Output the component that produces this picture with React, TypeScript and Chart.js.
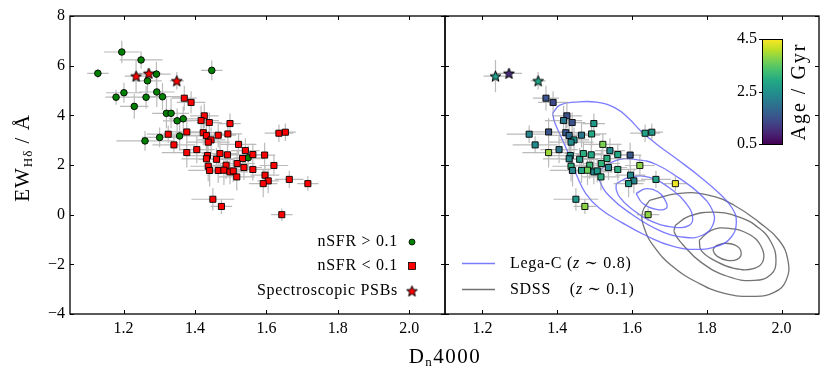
import React, { useEffect, useRef } from 'react';
import { Chart, registerables } from 'chart.js';
Chart.register(...registerables);

const FONT = '"Liberation Serif", "DejaVu Serif", serif';

// ---------------- data ----------------
const xTickValues = [1.2, 1.4, 1.6, 1.8, 2.0];
const yTickValues = [-4, -2, 0, 2, 4, 6, 8];
const ageTickValues = [0.5, 2.5, 4.5];

// nSFR > 0.1 (green circles)
const sfD = [1.195, 1.249, 1.128, 1.292, 1.267, 1.447, 1.201, 1.179, 1.263, 1.293, 1.309, 1.230, 1.320, 1.333, 1.350, 1.367, 1.357, 1.301, 1.260, 1.549];
const sfEW = [6.55, 6.23, 5.69, 5.66, 5.39, 5.81, 4.91, 4.73, 4.73, 4.94, 4.75, 4.36, 4.08, 4.08, 3.78, 3.86, 3.17, 3.11, 2.97, 2.29];
const sfDerr = [0.05, 0.06, 0.03, 0.04, 0.04, 0.03, 0.05, 0.03, 0.06, 0.05, 0.05, 0.04, 0.04, 0.05, 0.04, 0.04, 0.06, 0.05, 0.08, 0.04];
const sfEWerr = [0.45, 0.35, 0.2, 0.5, 0.5, 0.4, 0.4, 0.3, 0.45, 0.6, 0.55, 0.5, 0.6, 0.6, 0.5, 0.5, 0.6, 0.4, 0.4, 0.5];

// nSFR < 0.1 (red squares)
const qD = [1.370, 1.389, 1.426, 1.417, 1.440, 1.498, 1.325, 1.377, 1.423, 1.432, 1.445, 1.437, 1.465, 1.492, 1.341, 1.377, 1.405, 1.435, 1.432, 1.460, 1.470, 1.491, 1.522, 1.541, 1.533, 1.518, 1.562, 1.595, 1.621, 1.562, 1.537, 1.487, 1.437, 1.441, 1.465, 1.481, 1.498, 1.507, 1.517, 1.596, 1.605, 1.591, 1.664, 1.635, 1.653, 1.450, 1.474, 1.643, 1.716];
const qEW = [4.69, 4.52, 3.98, 3.79, 3.71, 3.67, 3.24, 3.33, 3.30, 3.19, 3.01, 2.92, 3.20, 3.25, 2.81, 2.50, 2.62, 2.38, 2.25, 2.23, 2.46, 2.41, 2.83, 2.58, 2.26, 2.06, 2.42, 2.40, 1.98, 1.82, 1.90, 1.99, 1.95, 1.78, 1.78, 1.79, 1.72, 1.76, 1.52, 1.59, 1.36, 1.25, 1.42, 3.28, 3.32, 0.62, 0.33, 0.00, 1.25];
const qDerr = [0.035, 0.04, 0.04, 0.05, 0.035, 0.03, 0.06, 0.05, 0.04, 0.05, 0.04, 0.06, 0.05, 0.04, 0.06, 0.07, 0.05, 0.06, 0.07, 0.05, 0.05, 0.04, 0.05, 0.04, 0.06, 0.05, 0.04, 0.03, 0.04, 0.05, 0.05, 0.06, 0.05, 0.06, 0.05, 0.04, 0.05, 0.04, 0.05, 0.04, 0.03, 0.04, 0.04, 0.04, 0.03, 0.06, 0.03, 0.03, 0.03];
const qEWerr = [0.5, 0.45, 0.5, 0.6, 0.4, 0.4, 0.35, 0.55, 0.5, 0.7, 0.5, 0.45, 0.5, 0.5, 0.35, 0.6, 0.55, 0.5, 0.6, 0.45, 0.5, 0.45, 0.4, 0.5, 0.45, 0.55, 0.45, 0.5, 0.4, 0.45, 0.5, 0.55, 0.6, 0.65, 0.5, 0.6, 0.5, 0.45, 0.55, 0.4, 0.5, 0.55, 0.35, 0.35, 0.35, 0.45, 0.3, 0.25, 0.3];
const qAge = [1.5, 1.4, 1.5, 2.1, 1.5, 2.6, 2.3, 1.5, 1.6, 1.9, 2.5, 2.4, 2.1, 2.9, 2.4, 3.9, 2.0, 2.5, 2.4, 2.7, 3.0, 2.9, 3.7, 2.4, 3.0, 3.1, 2.9, 1.6, 3.8, 3.0, 2.4, 3.2, 3.0, 2.3, 2.8, 3.6, 2.4, 2.6, 3.0, 2.4, 2.3, 2.7, 2.8, 2.8, 2.6, 2.6, 3.8, 3.8, 4.4];

// Spectroscopic PSBs (stars)
const psbD = [1.235, 1.271, 1.349];
const psbEW = [5.58, 5.69, 5.39];
const psbDerr = [0.032, 0.035, 0.02];
const psbEWerr = [0.65, 0.2, 0.35];
const psbAge = [2.7, 1.0, 2.8];

// Lega-C contours (z ~ 0.8)
const legaC1D = [1.388, 1.407, 1.447, 1.505, 1.556, 1.593, 1.625, 1.665, 1.719, 1.78, 1.833, 1.868, 1.879, 1.865, 1.828, 1.772, 1.708, 1.641, 1.572, 1.513, 1.476, 1.452, 1.433, 1.412, 1.393];
const legaC1EW = [4.09, 4.41, 4.53, 4.53, 4.29, 3.85, 3.35, 2.85, 2.25, 1.55, 0.86, 0.26, -0.31, -0.91, -1.27, -1.40, -1.27, -0.87, -0.31, 0.26, 0.86, 1.59, 2.35, 3.08, 3.73];
const legaC2D = [1.513, 1.558, 1.611, 1.665, 1.727, 1.78, 1.815, 1.817, 1.788, 1.74, 1.673, 1.599, 1.54, 1.513];
const legaC2EW = [1.79, 2.19, 2.22, 2.02, 1.46, 0.85, 0.18, -0.39, -0.83, -0.91, -0.63, 0.02, 0.74, 1.39];
const legaC3D = [1.558, 1.593, 1.647, 1.709, 1.745, 1.762, 1.753, 1.709, 1.647, 1.593, 1.567, 1.558];
const legaC3EW = [1.25, 1.50, 1.50, 0.98, 0.45, -0.09, -0.43, -0.50, -0.23, 0.31, 0.71, 1.0];
const legaC4D = [1.611, 1.638, 1.669, 1.691, 1.691, 1.665, 1.629];
const legaC4EW = [0.85, 1.05, 0.92, 0.51, 0.25, 0.21, 0.45];

// SDSS contours (z ~ 0.1)
const sdss1D = [1.647, 1.727, 1.807, 1.873, 1.94, 1.993, 2.017, 2.012, 1.98, 1.927, 1.847, 1.775, 1.708, 1.66, 1.633, 1.628];
const sdss1EW = [0.58, 0.86, 0.78, 0.38, -0.31, -1.03, -1.84, -2.65, -3.13, -3.29, -3.17, -2.73, -2.08, -1.31, -0.55, 0.10];
const sdss2D = [1.716, 1.753, 1.82, 1.887, 1.94, 1.972, 1.985, 1.972, 1.927, 1.855, 1.785, 1.735, 1.713];
const sdss2EW = [-0.43, -0.06, 0.10, -0.10, -0.55, -1.11, -1.84, -2.40, -2.65, -2.48, -1.92, -1.19, -0.71];
const sdss3D = [1.78, 1.812, 1.86, 1.913, 1.945, 1.951, 1.927, 1.873, 1.82, 1.785];
const sdss3EW = [-1.03, -0.63, -0.55, -0.79, -1.27, -1.84, -2.16, -2.16, -1.84, -1.44];
const sdss4D = [1.823, 1.849, 1.881, 1.892, 1.881, 1.855, 1.828, 1.817];
const sdss4EW = [-1.27, -1.15, -1.27, -1.56, -1.80, -1.84, -1.68, -1.44];

// ---------------- helpers ----------------
const VIRIDIS = ['#440154', '#482475', '#414487', '#355f8d', '#2a788e', '#21918c', '#22a884', '#44bf70', '#7ad151', '#bddf26', '#fde725'];
const AGE_MIN = 0.5, AGE_MAX = 4.5;

function hexToRgb(h: string) {
  return [parseInt(h.slice(1, 3), 16), parseInt(h.slice(3, 5), 16), parseInt(h.slice(5, 7), 16)];
}
function viridis(age: number) {
  let t = (age - AGE_MIN) / (AGE_MAX - AGE_MIN);
  t = Math.max(0, Math.min(1, t));
  const p = t * 10;
  const i = Math.min(9, Math.floor(p));
  const f = p - i;
  const a = hexToRgb(VIRIDIS[i]), b = hexToRgb(VIRIDIS[i + 1]);
  const c = a.map((v, k) => Math.round(v + (b[k] - v) * f));
  return `rgb(${c[0]},${c[1]},${c[2]})`;
}

function makeStar(fill: string, size: number) {
  const c = document.createElement('canvas');
  c.width = size; c.height = size;
  const ctx = c.getContext('2d')!;
  const cx = size / 2, cy = size / 2 + 0.5, R = size / 2 - 0.8, r = R * 0.42;
  ctx.beginPath();
  for (let i = 0; i < 10; i++) {
    const ang = -Math.PI / 2 + (i * Math.PI) / 5;
    const rad = i % 2 === 0 ? R : r;
    ctx.lineTo(cx + rad * Math.cos(ang), cy + rad * Math.sin(ang));
  }
  ctx.closePath();
  ctx.fillStyle = fill; ctx.fill();
  ctx.lineWidth = 1; ctx.strokeStyle = '#000'; ctx.stroke();
  return c;
}

function pts(xs: number[], ys: number[]) {
  return xs.map((x, i) => ({ x, y: ys[i] }));
}
function closed(xs: number[], ys: number[]) {
  const p = pts(xs, ys);
  return [...p, p[0]];
}
function errorSegments(xs: number[], ys: number[], xe: number[], ye: number[]) {
  const out: any[] = [];
  for (let i = 0; i < xs.length; i++) {
    out.push({ x: xs[i] - xe[i], y: ys[i] }, { x: xs[i] + xe[i], y: ys[i] }, { x: null, y: null });
    out.push({ x: xs[i], y: ys[i] - ye[i] }, { x: xs[i], y: ys[i] + ye[i] }, { x: null, y: null });
  }
  return out;
}

const ERR_COLOR = 'rgba(150,150,150,0.65)';
const BLUE = 'rgba(90,90,255,0.8)';
const GREY = 'rgba(90,90,90,0.85)';

function drawFrame(chart: any) {
  const { ctx, chartArea: a, scales } = chart;
  ctx.save();
  ctx.strokeStyle = '#000';
  ctx.lineWidth = 1;
  const L = 4;
  ctx.beginPath();
  for (const v of xTickValues) {
    const px = Math.round(scales.x.getPixelForValue(v)) + 0.5;
    ctx.moveTo(px, a.bottom); ctx.lineTo(px, a.bottom - L);
    ctx.moveTo(px, a.top); ctx.lineTo(px, a.top + L);
  }
  for (const v of yTickValues) {
    const py = Math.round(scales.y.getPixelForValue(v)) + 0.5;
    ctx.moveTo(a.left, py); ctx.lineTo(a.left + L, py);
    ctx.moveTo(a.right, py); ctx.lineTo(a.right - L, py);
  }
  ctx.stroke();
  ctx.lineWidth = 1.3;
  ctx.strokeRect(a.left, a.top, a.right - a.left, a.bottom - a.top);
  ctx.restore();
}

type Run = { t: string; size: number; italic?: boolean; dy?: number };
function setSpacing(ctx: any, px: number) {
  if ('letterSpacing' in ctx) ctx.letterSpacing = `${px}px`;
}
function runsWidth(ctx: CanvasRenderingContext2D, runs: Run[]) {
  let w = 0;
  for (const r of runs) {
    ctx.font = `${r.italic ? 'italic ' : ''}${r.size}px ${FONT}`;
    w += ctx.measureText(r.t).width;
  }
  return w;
}
function drawRuns(ctx: CanvasRenderingContext2D, runs: Run[], x: number, y: number) {
  let cx = x;
  for (const r of runs) {
    ctx.font = `${r.italic ? 'italic ' : ''}${r.size}px ${FONT}`;
    ctx.fillText(r.t, cx, y + (r.dy || 0));
    cx += ctx.measureText(r.t).width;
  }
}

const leftDecor = {
  id: 'leftDecor',
  afterDraw(chart: any) {
    drawFrame(chart);
    const ctx: CanvasRenderingContext2D = chart.ctx;
    ctx.save();
    ctx.fillStyle = '#000';
    // legend
    const rows = ['nSFR > 0.1', 'nSFR < 0.1', 'Spectroscopic PSBs'];
    const ys = [242, 266, 291];
    ctx.textAlign = 'right';
    ctx.textBaseline = 'middle';
    ctx.font = `16px ${FONT}`;
    setSpacing(ctx, 0.7);
    rows.forEach((t, i) => ctx.fillText(t, 398, ys[i]));
    setSpacing(ctx, 0);
    const mx = 412;
    ctx.lineWidth = 0.8; ctx.strokeStyle = '#000';
    ctx.beginPath(); ctx.arc(mx, ys[0], 3, 0, Math.PI * 2); ctx.fillStyle = '#008000'; ctx.fill(); ctx.stroke();
    ctx.fillStyle = '#ff0000'; ctx.fillRect(mx - 3.5, ys[1] - 3.5, 7, 7); ctx.strokeRect(mx - 3.5, ys[1] - 3.5, 7, 7);
    const st = makeStar('#ff0000', 13);
    ctx.drawImage(st, mx - 6.5, ys[2] - 6.5);
    // y title
    ctx.fillStyle = '#000';
    ctx.translate(22, 158);
    ctx.rotate(-Math.PI / 2);
    ctx.textAlign = 'left';
    ctx.textBaseline = 'alphabetic';
    setSpacing(ctx, 1);
    const yRuns: Run[] = [{ t: 'EW', size: 21 }, { t: 'Hδ', size: 13, dy: 3 }, { t: ' / Å', size: 21 }];
    const w = runsWidth(ctx, yRuns);
    drawRuns(ctx, yRuns, -w / 2, 7);
    setSpacing(ctx, 0);
    ctx.restore();
    // x title
    ctx.save();
    ctx.fillStyle = '#000';
    ctx.textAlign = 'left';
    ctx.textBaseline = 'alphabetic';
    setSpacing(ctx, 1.5);
    const xRuns: Run[] = [{ t: 'D', size: 21 }, { t: 'n', size: 13, dy: 3 }, { t: '4000', size: 21 }];
    const xw = runsWidth(ctx, xRuns);
    drawRuns(ctx, xRuns, 445 - xw / 2, 363);
    setSpacing(ctx, 0);
    ctx.restore();
  },
};

const rightDecor = {
  id: 'rightDecor',
  afterDraw(chart: any) {
    drawFrame(chart);
    const ctx: CanvasRenderingContext2D = chart.ctx;
    ctx.save();
    // legend
    ctx.lineWidth = 1.3;
    ctx.strokeStyle = BLUE;
    ctx.beginPath(); ctx.moveTo(462, 263.5); ctx.lineTo(495, 263.5); ctx.stroke();
    ctx.strokeStyle = GREY;
    ctx.beginPath(); ctx.moveTo(462, 289.5); ctx.lineTo(495, 289.5); ctx.stroke();
    ctx.fillStyle = '#000';
    ctx.textAlign = 'left';
    ctx.textBaseline = 'middle';
    setSpacing(ctx, 0.7);
    drawRuns(ctx, [{ t: 'Lega-C (', size: 16 }, { t: 'z', size: 16, italic: true }, { t: ' ∼ 0.8)', size: 16 }], 510, 264);
    drawRuns(ctx, [{ t: 'SDSS', size: 16 }, { t: '    (', size: 16 }, { t: 'z', size: 16, italic: true }, { t: ' ∼ 0.1)', size: 16 }], 510, 290);
    setSpacing(ctx, 0);
    // colorbar
    const cx0 = 762, cx1 = 782, cy0 = 39, cy1 = 144;
    const g = ctx.createLinearGradient(0, cy1, 0, cy0);
    VIRIDIS.forEach((c, i) => g.addColorStop(i / (VIRIDIS.length - 1), c));
    ctx.fillStyle = g;
    ctx.fillRect(cx0, cy0, cx1 - cx0, cy1 - cy0);
    ctx.strokeStyle = '#000'; ctx.lineWidth = 1;
    ctx.strokeRect(cx0 + 0.5, cy0 + 0.5, cx1 - cx0, cy1 - cy0);
    ctx.fillStyle = '#000';
    ctx.textAlign = 'right';
    ctx.textBaseline = 'middle';
    ctx.font = `16px ${FONT}`;
    ctx.beginPath();
    for (const v of ageTickValues) {
      const py = cy1 - ((v - AGE_MIN) / (AGE_MAX - AGE_MIN)) * (cy1 - cy0);
      ctx.fillText(v.toFixed(1), 757, py);
      ctx.moveTo(cx0 - 3, Math.round(py) + 0.5); ctx.lineTo(cx0, Math.round(py) + 0.5);
    }
    ctx.stroke();
    ctx.translate(800, (cy0 + cy1) / 2);
    ctx.rotate(-Math.PI / 2);
    ctx.textAlign = 'center';
    ctx.font = `20px ${FONT}`;
    setSpacing(ctx, 2);
    ctx.fillText('Age / Gyr', 0, 0);
    setSpacing(ctx, 0);
    ctx.restore();
  },
};

function tickFont() {
  return { family: FONT, size: 16 };
}

function baseScales(xmin: number, showY: boolean) {
  return {
    x: {
      type: 'linear' as const,
      min: xmin,
      max: 2.1,
      afterBuildTicks: (s: any) => { s.ticks = xTickValues.map((v) => ({ value: v })); },
      afterFit: (s: any) => { s.height = 61; },
      grid: { display: false, drawTicks: false },
      border: { display: false },
      ticks: { font: tickFont(), color: '#000', padding: 5, maxRotation: 0, autoSkip: false, callback: (v: any) => Number(v).toFixed(1) },
    },
    y: {
      type: 'linear' as const,
      min: -4,
      max: 8,
      display: showY,
      afterBuildTicks: (s: any) => { s.ticks = yTickValues.map((v) => ({ value: v })); },
      afterFit: (s: any) => { s.width = showY ? 70 : 0; },
      grid: { display: false, drawTicks: false },
      border: { display: false },
      ticks: { font: tickFont(), color: '#000', padding: 5, callback: (v: any) => (Number(v) < 0 ? '−' + Math.abs(Number(v)) : String(v)) },
    },
  };
}

export default function App() {
  const leftRef = useRef<HTMLCanvasElement>(null);
  const rightRef = useRef<HTMLCanvasElement>(null);

  useEffect(() => {
    document.body.style.margin = '0';
    const redStar = makeStar('#ff0000', 13);
    const left = new Chart(leftRef.current!, {
      type: 'scatter',
      data: {
        datasets: [
          { data: pts(psbD, psbEW), pointStyle: redStar as any, pointRadius: 6, order: 1 } as any,
          { data: pts(qD, qEW), pointStyle: 'rect', pointRadius: 4.3, backgroundColor: '#ff0000', borderColor: '#000', borderWidth: 0.9, order: 2 },
          { data: pts(sfD, sfEW), pointStyle: 'circle', pointRadius: 3.3, backgroundColor: '#008000', borderColor: '#000', borderWidth: 0.9, order: 3 },
          {
            data: [
              ...errorSegments(sfD, sfEW, sfDerr, sfEWerr),
              ...errorSegments(qD, qEW, qDerr, qEWerr),
              ...errorSegments(psbD, psbEW, psbDerr, psbEWerr),
            ],
            showLine: true, pointRadius: 0, borderColor: ERR_COLOR, borderWidth: 1.2, spanGaps: false, order: 10,
          },
        ],
      },
      options: {
        responsive: false,
        animation: false,
        events: [],
        layout: { padding: { left: 0, top: 16, right: 385, bottom: 0 } },
        plugins: { legend: { display: false }, tooltip: { enabled: false } },
        scales: baseScales(1.05, true) as any,
      },
      plugins: [leftDecor],
    });

    const contour = (xs: number[], ys: number[], color: string) => ({
      data: closed(xs, ys), showLine: true, pointRadius: 0, borderColor: color, borderWidth: 1.3, tension: 0.45, fill: false, order: 20,
    });

    const right = new Chart(rightRef.current!, {
      type: 'scatter',
      data: {
        datasets: [
          { data: pts(psbD, psbEW), pointStyle: psbAge.map((a) => makeStar(viridis(a), 13)) as any, pointRadius: 6, order: 1 } as any,
          { data: pts(qD, qEW), pointStyle: 'rect', pointRadius: 4.3, backgroundColor: qAge.map(viridis), borderColor: '#000', borderWidth: 0.9, order: 2 },
          {
            data: [...errorSegments(qD, qEW, qDerr, qEWerr), ...errorSegments(psbD, psbEW, psbDerr, psbEWerr)],
            showLine: true, pointRadius: 0, borderColor: ERR_COLOR, borderWidth: 1.2, spanGaps: false, order: 10,
          },
          contour(legaC1D, legaC1EW, BLUE),
          contour(legaC2D, legaC2EW, BLUE),
          contour(legaC3D, legaC3EW, BLUE),
          contour(legaC4D, legaC4EW, BLUE),
          contour(sdss1D, sdss1EW, GREY),
          contour(sdss2D, sdss2EW, GREY),
          contour(sdss3D, sdss3EW, GREY),
          contour(sdss4D, sdss4EW, GREY),
        ],
      },
      options: {
        responsive: false,
        animation: false,
        events: [],
        layout: { padding: { left: 445, top: 16, right: 11, bottom: 0 } },
        plugins: { legend: { display: false }, tooltip: { enabled: false } },
        scales: baseScales(1.1, false) as any,
      },
      plugins: [rightDecor],
    });

    return () => { left.destroy(); right.destroy(); };
  }, []);

  return (
    <div style={{ position: 'relative', width: 830, height: 375 }}>
      <canvas ref={leftRef} width={830} height={375} style={{ position: 'absolute', left: 0, top: 0 }} />
      <canvas ref={rightRef} width={830} height={375} style={{ position: 'absolute', left: 0, top: 0 }} />
    </div>
  );
}
